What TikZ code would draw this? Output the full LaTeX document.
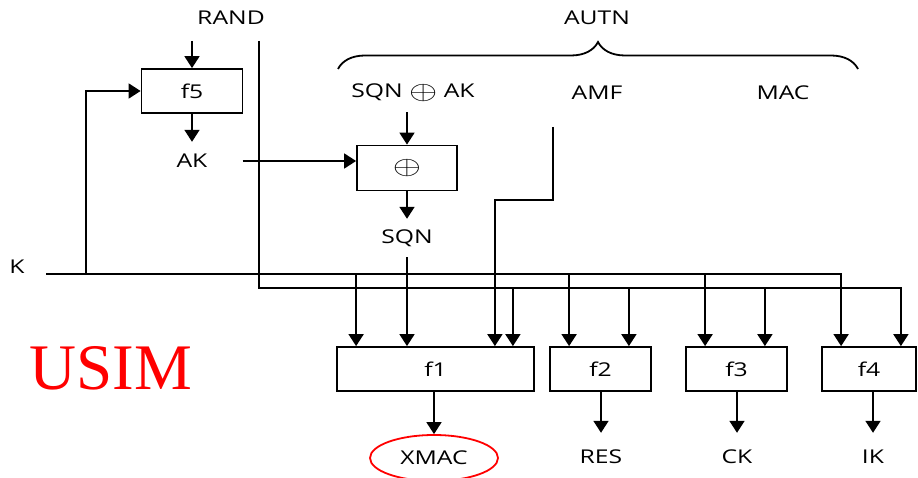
\documentclass[tikz,border=0pt]{standalone}
\usepackage{fontspec}
\setmainfont{Open Sans}[FakeStretch=1.3]
\newfontfamily\usimfont{Liberation Serif}
\usepackage{tikz}
\usetikzlibrary{arrows.meta,shapes.geometric,decorations.pathreplacing,calc}
\definecolor{usimred}{HTML}{FF0000}
\newcommand\sigfont{\fontsize{19}{22}\selectfont}
\newcommand\xorsym{\raisebox{-2pt}{\scalebox{2.1}[1.5]{$\oplus$}}}
\tikzstyle{fbox} = [rectangle, draw, line width=1.8pt, minimum width=101pt,
    minimum height=44pt, font=\sigfont]
\tikzstyle{sig} = [inner sep=0pt, minimum height=38pt, font=\sigfont]
\tikzstyle{outsig} = [sig, minimum height=48pt]
\tikzstyle{wire} = [line width=1.8pt]
\tikzstyle{arrow} = [wire, -{Triangle[length=12pt,width=15pt]}]

\begin{document}
\begin{tikzpicture}[x=1pt,y=-1pt]
\useasboundingbox (0,0) rectangle (918,478);
% inputs and the AUTN fields
\node[sig] (rand) at (231,18) {RAND};
\node[sig] (autn) at (597,18) {AUTN};
\node[sig] (sqnak) at (413,93) {SQN \xorsym{} AK};
\node[sig] (amf) at (597,93) {AMF};
\node[sig] (mac) at (783,93) {MAC};
\node[sig] (k) at (17,267) {K};
\coordinate (autnl) at (338,69);
\coordinate (autnr) at (858,69);
\draw[wire, decorate, decoration={brace, amplitude=27pt}] (autnl) -- (autnr);
% f5 and the SQN recovery
\node[fbox] (f5) at (192,91) {f5};
\node[sig] (ak) at (192,161) {AK};
\node[fbox, minimum width=100pt, minimum height=45pt] (xor) at (407,168) {\xorsym};
\node[sig] (sqn) at (407,238) {SQN};
% functions and outputs
\node[fbox, minimum width=197pt] (f1) at (435.5,369) {f1};
\node[fbox] (f2) at (600.5,369) {f2};
\node[fbox] (f3) at (736.5,369) {f3};
\node[fbox, minimum width=94pt] (f4) at (869,369) {f4};
\node[outsig, ellipse, draw=usimred, line width=1.8pt, minimum width=128pt,
    minimum height=46pt] (xmac) at (434,458) {XMAC};
\node[outsig] (res) at (601,457) {RES};
\node[outsig] (ck) at (737,457) {CK};
\node[outsig] (ik) at (873,457) {IK};
\node[font=\usimfont\fontsize{65}{70}\selectfont, text=usimred] (usim) at (111,368) {USIM};
% wires
\coordinate (randtop) at (259,41);
\coordinate (randbus) at (259,288);
\coordinate (randf5) at (192,41);
\coordinate (kin) at (46,274);
\coordinate (kf5) at (86,274);
\coordinate (amfout) at (553,127);
\draw[arrow] (randf5) -- (f5);
\draw[arrow] (kf5) |- (f5);
\draw[arrow] (f5) -- (ak);
\draw[arrow, shorten <=35pt] (ak) -- (ak -| xor.west);
\draw[arrow] (sqnak.south -| xor) -- (xor);
\draw[arrow] (xor) -- (sqn);
\draw[arrow] (sqn) -- (sqn |- f1.north);
\draw[arrow] (amfout) -- ++(0,73) -| ([xshift=-40pt]f1.north east);
\draw[arrow] (kin) -| ([xshift=20pt]f4.north west);
\draw[arrow] (randtop) -- (randbus) -| ([xshift=-16pt]f4.north east);
\foreach \b in {f1,f2,f3}
  \draw[arrow] ([xshift=20pt]\b.north west |- kin) -- ([xshift=20pt]\b.north west);
\foreach \b/\s in {f1/-22pt,f2/-23pt,f3/-23pt}
  \draw[arrow] ([xshift=\s]\b.north east |- randbus) -- ([xshift=\s]\b.north east);
\foreach \b/\o in {f1/xmac,f2/res,f3/ck,f4/ik}
  \draw[arrow] (\b.south -| \o) -- (\o);
\end{tikzpicture}
\end{document}
